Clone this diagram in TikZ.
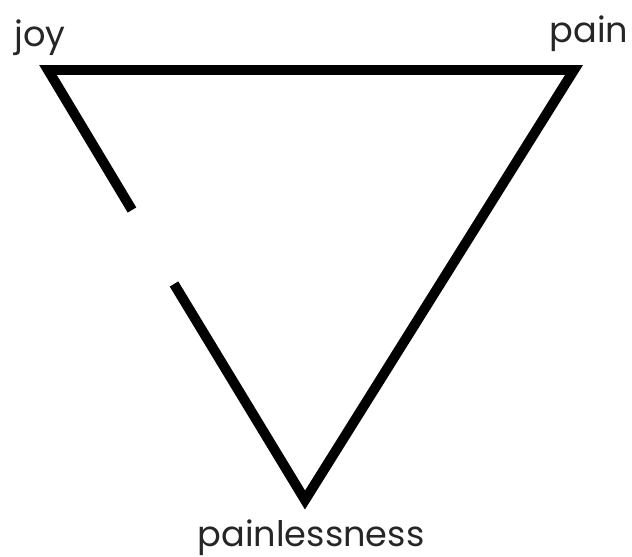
\documentclass[tikz,border=0pt]{standalone}
\usepackage{fontspec}
\setmainfont{Poppins}
\begin{document}
\begin{tikzpicture}[x=0.03cm,y=-0.03cm,line join=miter,
  side/.style={line width=8.5pt,line cap=butt},
  word/.style={font=\fontsize{30}{32}\selectfont,anchor=base,inner sep=0pt,text=black!85}]
  \useasboundingbox (0,0) rectangle (632,557);
  \coordinate (joyC) at (48,70);
  \coordinate (painC) at (574,70);
  \coordinate (lessC) at (305,500);
  \coordinate (gapA) at (132,210);
  \coordinate (gapB) at (174,284);
  \draw[side] (gapA) -- (joyC) -- (painC) -- (lessC) -- (gapB);
  \node[word] (joy) at (40,46) {joy};
  \node[word] (pain) at (589,42) {pain};
  \node[word] (less) at (311,546) {painlessness};
\end{tikzpicture}
\end{document}
